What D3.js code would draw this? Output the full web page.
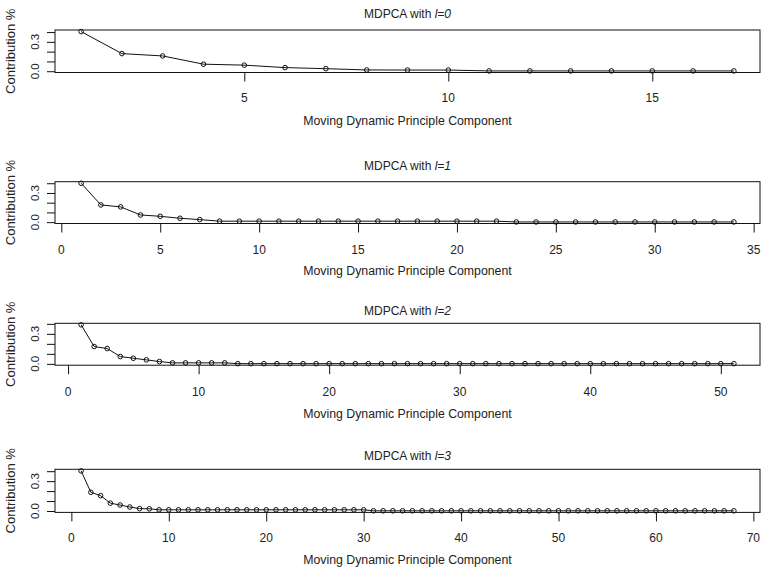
<!DOCTYPE html>
<html>
<head>
<meta charset="utf-8">
<script src="https://cdn.jsdelivr.net/npm/d3@7"></script>
<style>
  body { margin: 0; background: #fff; }
  svg { display: block; }
  text { font-family: "Liberation Sans", Arial, sans-serif; fill: #222; }
</style>
</head>
<body>
<svg id="chart" width="763" height="569"></svg>
<script>
// Lag order of each MDPCA run
const lagLabels = ["l=0", "l=1", "l=2", "l=3"];

// Contribution (share of variance) of each moving dynamic principal component
const contribL0 = [0.405, 0.180, 0.156, 0.072, 0.062, 0.037, 0.026, 0.013, 0.012, 0.012,
                   0.003, 0.003, 0.003, 0.003, 0.003, 0.003, 0.003];
const contribL1 = [0.400, 0.177, 0.157, 0.074, 0.060, 0.040, 0.026, 0.010, 0.010, 0.010,
                   0.010, 0.010, 0.010, 0.010, 0.010, 0.010, 0.010, 0.010, 0.010, 0.010,
                   0.010, 0.010, 0.002, 0.002, 0.002, 0.002, 0.002, 0.002, 0.002, 0.002,
                   0.002, 0.002, 0.002, 0.002];
const contribL2 = [0.390, 0.173, 0.153, 0.073, 0.056, 0.040, 0.023, 0.010, 0.010, 0.010,
                   0.010, 0.010, 0.002, 0.002, 0.002, 0.002, 0.002, 0.002, 0.002, 0.002,
                   0.002, 0.002, 0.002, 0.002, 0.002, 0.002, 0.002, 0.002, 0.002, 0.002,
                   0.002, 0.002, 0.002, 0.002, 0.002, 0.002, 0.002, 0.002, 0.002, 0.002,
                   0.002, 0.002, 0.002, 0.002, 0.002, 0.002, 0.002, 0.002, 0.002, 0.002,
                   0.002];
const contribL3 = [0.403, 0.188, 0.154, 0.079, 0.060, 0.040, 0.024, 0.022, 0.012, 0.012,
                   0.012, 0.012, 0.012, 0.012, 0.012, 0.012, 0.012, 0.012, 0.012, 0.012,
                   0.012, 0.012, 0.012, 0.012, 0.012, 0.012, 0.012, 0.012, 0.012, 0.012,
                   0.002, 0.002, 0.002, 0.002, 0.002, 0.002, 0.002, 0.002, 0.002, 0.002,
                   0.002, 0.002, 0.002, 0.002, 0.002, 0.002, 0.002, 0.002, 0.002, 0.002,
                   0.002, 0.002, 0.002, 0.002, 0.002, 0.002, 0.002, 0.002, 0.002, 0.002,
                   0.002, 0.002, 0.002, 0.002, 0.002, 0.002, 0.002, 0.002];

// Axis ticks
const xTicksL0 = [5, 10, 15];
const xTicksL1 = [0, 5, 10, 15, 20, 25, 30, 35];
const xTicksL2 = [0, 10, 20, 30, 40, 50];
const xTicksL3 = [0, 10, 20, 30, 40, 50, 60, 70];
const yTicks = [0, 0.1, 0.2, 0.3, 0.4];
const yTickLabels = ["0.0", "", "", "0.3", ""];

const xTitle = "Moving Dynamic Principle Component";
const yTitle = "Contribution %";

const seriesList = [contribL0, contribL1, contribL2, contribL3];
const xTickList = [xTicksL0, xTicksL1, xTicksL2, xTicksL3];

// Vertical placement of the four stacked panels
const layout = [
  { top: 30,    bottom: 72.5,  titleY: 17.5, tickY: 101.5, labelY: 125 },
  { top: 181.7, bottom: 223.5, titleY: 170,  tickY: 253.5, labelY: 274.5 },
  { top: 323.3, bottom: 365.2, titleY: 315,  tickY: 395.5, labelY: 417.5 },
  { top: 469.3, bottom: 512.4, titleY: 460,  tickY: 541.5, labelY: 564 }
];
const left = 55, right = 760;

const svg = d3.select("#chart");

// R-style axis range: data range padded by 4% on each side
function padded(lo, hi) {
  const d = (hi - lo) * 0.04;
  return [lo - d, hi + d];
}

seriesList.forEach((values, i) => {
  const L = layout[i];
  const pts = values.map((v, k) => ({ k: k + 1, v }));
  const x = d3.scaleLinear().domain(padded(1, values.length)).range([left, right]);
  const y = d3.scaleLinear().domain(padded(d3.min(values), d3.max(values))).range([L.bottom, L.top]);

  const g = svg.append("g");

  // Title with italic lag
  const t = g.append("text")
    .attr("x", (left + right) / 2).attr("y", L.titleY)
    .attr("text-anchor", "middle").style("font-size", "12px");
  t.append("tspan").text("MDPCA with ");
  t.append("tspan").style("font-style", "italic").text(lagLabels[i]);

  // Line and open circles
  g.append("path")
    .datum(pts)
    .attr("fill", "none").attr("stroke", "#111").attr("stroke-width", 1)
    .attr("d", d3.line().x(d => x(d.k)).y(d => y(d.v)));
  g.selectAll("circle").data(pts).enter().append("circle")
    .attr("cx", d => x(d.k)).attr("cy", d => y(d.v)).attr("r", 2.3)
    .attr("fill", "none").attr("stroke", "#111").attr("stroke-width", 1);

  // Plot frame
  g.append("rect")
    .attr("x", left).attr("y", L.top)
    .attr("width", right - left).attr("height", L.bottom - L.top)
    .attr("fill", "none").attr("stroke", "#111").attr("stroke-width", 1);

  // Bottom axis
  const xAxis = d3.axisBottom(x).tickValues(xTickList[i]).tickSize(9).tickPadding(0).tickFormat(d3.format("d"));
  const ax = g.append("g").attr("transform", `translate(0,${L.bottom})`).call(xAxis);
  ax.select(".domain").remove();
  ax.selectAll("line").attr("stroke", "#111");
  ax.selectAll("text").remove();
  g.selectAll(null).data(xTickList[i]).enter().append("text")
    .attr("x", d => x(d)).attr("y", L.tickY)
    .attr("text-anchor", "middle").style("font-size", "12px")
    .text(d => d);

  // Left axis with rotated labels
  const yAxis = d3.axisLeft(y).tickValues(yTicks).tickSize(8).tickFormat("");
  const ay = g.append("g").attr("transform", `translate(${left},0)`).call(yAxis);
  ay.select(".domain").remove();
  ay.selectAll("line").attr("stroke", "#111");
  g.selectAll(null).data(yTicks.map((v, k) => ({ v, s: yTickLabels[k] })).filter(d => d.s))
    .enter().append("text")
    .attr("transform", d => `translate(38.5,${y(d.v)}) rotate(-90)`)
    .attr("text-anchor", "middle").style("font-size", "11.5px")
    .text(d => d.s);

  // Axis titles
  g.append("text")
    .attr("x", (left + right) / 2).attr("y", L.labelY)
    .attr("text-anchor", "middle").style("font-size", "12.3px")
    .text(xTitle);
  g.append("text")
    .attr("transform", `translate(15,${(L.top + L.bottom) / 2}) rotate(-90)`)
    .attr("text-anchor", "middle").style("font-size", "13px")
    .text(yTitle);
});
</script>
</body>
</html>
